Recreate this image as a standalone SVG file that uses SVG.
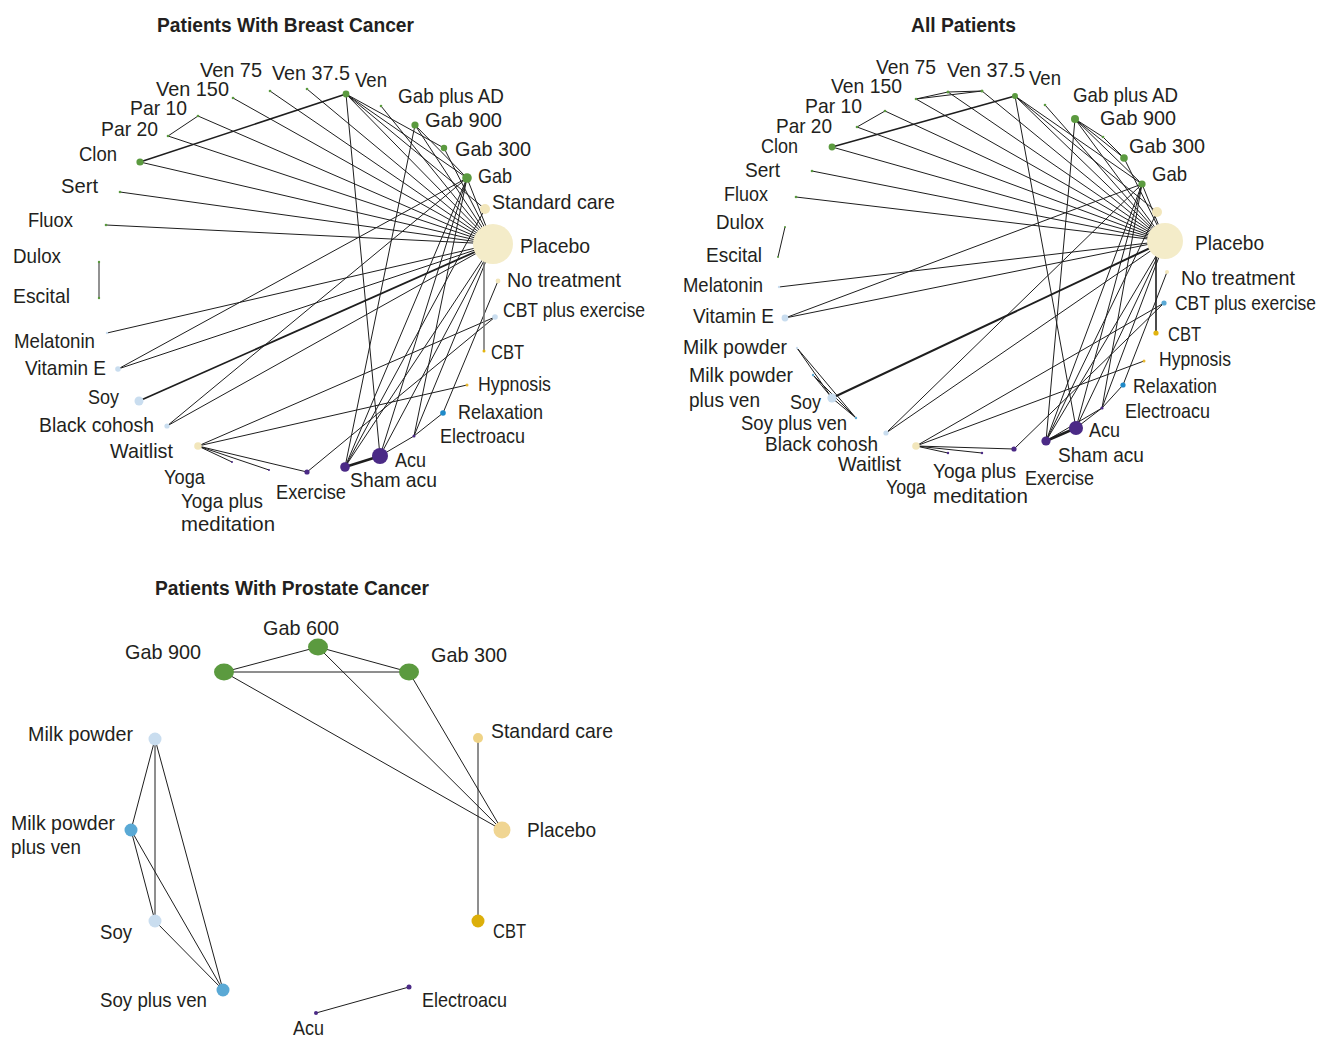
<svg xmlns="http://www.w3.org/2000/svg" width="1328" height="1037" viewBox="0 0 1328 1037">
<style>
text{font-family:"Liberation Sans",Arial,sans-serif;fill:#231f20}
.l{font-size:21px}
.t{font-size:20px;font-weight:bold}
.e{stroke:#1e1e1e;stroke-width:1;fill:none}
.k{stroke:#1e1e1e;stroke-width:2;fill:none}
.g{stroke:#777;stroke-width:1.6;fill:none}
.gr{fill:#5b9a3f}.cr{fill:#f4ecc9}.lb{fill:#c9ddef}.mb{fill:#5aa9d5}.rb{fill:#1f8ac9}.pu{fill:#4b2a86}.go{fill:#e2b40f}.hy{fill:#e8b830}.sc{fill:#f2e6bb}
.pp{fill:#f0d592}.ps{fill:#efd386}.pc{fill:#dcaf0a}
</style>
<rect width="1328" height="1037" fill="#fff"/>
<text class="t" x="157" y="32" textLength="257" lengthAdjust="spacingAndGlyphs">Patients With Breast Cancer</text>
<text class="t" x="911" y="32" textLength="105" lengthAdjust="spacingAndGlyphs">All Patients</text>
<text class="t" x="155" y="595" textLength="274" lengthAdjust="spacingAndGlyphs">Patients With Prostate Cancer</text>

<g id="connectors">
<line class="e" x1="140" y1="162" x2="346" y2="94" style="stroke-width:1.5"/>
<line class="e" x1="140" y1="162" x2="493" y2="244"/>
<line class="e" x1="168" y1="136" x2="198" y2="116"/>
<line class="e" x1="168" y1="136" x2="493" y2="244"/>
<line class="e" x1="198" y1="116" x2="493" y2="244"/>
<line class="e" x1="233" y1="98" x2="493" y2="244"/>
<line class="e" x1="270" y1="91" x2="493" y2="244"/>
<line class="e" x1="307" y1="89" x2="493" y2="244"/>
<line class="e" x1="120" y1="192" x2="493" y2="244"/>
<line class="e" x1="106" y1="225" x2="493" y2="244"/>
<line class="g" x1="99" y1="262" x2="99" y2="298"/>
<line class="e" x1="107" y1="333" x2="493" y2="244"/>
<line class="e" x1="118" y1="369" x2="493" y2="244"/>
<line class="e" x1="118" y1="369" x2="467" y2="178"/>
<line class="e" x1="139" y1="401" x2="493" y2="244" style="stroke-width:1.8"/>
<line class="e" x1="167" y1="426" x2="493" y2="244"/>
<line class="e" x1="167" y1="426" x2="467" y2="178"/>
<line class="e" x1="198" y1="446" x2="232" y2="462"/>
<line class="e" x1="198" y1="446" x2="269" y2="470"/>
<line class="e" x1="198" y1="446" x2="307" y2="472"/>
<line class="e" x1="198" y1="446" x2="495" y2="317"/>
<line class="e" x1="198" y1="446" x2="467" y2="385"/>
<line class="e" x1="307" y1="472" x2="495" y2="317"/>
<line class="k" x1="345" y1="467" x2="380" y2="456" style="stroke-width:2.5"/>
<line class="e" x1="345" y1="467" x2="467" y2="178"/>
<line class="e" x1="345" y1="467" x2="493" y2="244"/>
<line class="e" x1="345" y1="467" x2="485" y2="209"/>
<line class="e" x1="345" y1="467" x2="415" y2="125"/>
<line class="e" x1="380" y1="456" x2="346" y2="94"/>
<line class="e" x1="380" y1="456" x2="414" y2="436"/>
<line class="e" x1="414" y1="436" x2="443" y2="413"/>
<line class="e" x1="380" y1="456" x2="493" y2="244"/>
<line class="e" x1="380" y1="456" x2="467" y2="178"/>
<line class="e" x1="414" y1="436" x2="467" y2="178"/>
<line class="e" x1="414" y1="436" x2="493" y2="244"/>
<line class="e" x1="443" y1="413" x2="498" y2="281"/>
<line class="g" x1="484" y1="244" x2="484" y2="351"/>
<line class="e" x1="415" y1="125" x2="467" y2="178"/>
<line class="e" x1="415" y1="125" x2="493" y2="244"/>
<line class="e" x1="444" y1="148" x2="493" y2="244"/>
<line class="e" x1="467" y1="178" x2="493" y2="244"/>
<line class="e" x1="381" y1="106" x2="493" y2="244"/>
<line class="e" x1="346" y1="94" x2="493" y2="244"/>
<line class="e" x1="346" y1="94" x2="467" y2="178"/>
<line class="e" x1="346" y1="94" x2="485" y2="209"/>
<line class="e" x1="346" y1="94" x2="444" y2="148"/>

<line class="e" x1="916" y1="99" x2="948" y2="92"/>
<line class="e" x1="916" y1="99" x2="982" y2="91"/>
<line class="e" x1="948" y1="92" x2="982" y2="91"/>
<line class="e" x1="916" y1="99" x2="1165" y2="241"/>
<line class="e" x1="948" y1="92" x2="1165" y2="241"/>
<line class="e" x1="982" y1="91" x2="1165" y2="241"/>
<line class="e" x1="857" y1="127" x2="885" y2="111"/>
<line class="e" x1="857" y1="127" x2="1165" y2="241"/>
<line class="e" x1="885" y1="111" x2="1165" y2="241"/>
<line class="e" x1="832" y1="147" x2="1015" y2="96" style="stroke-width:1.5"/>
<line class="e" x1="832" y1="147" x2="1165" y2="241"/>
<line class="e" x1="812" y1="171" x2="1165" y2="241"/>
<line class="e" x1="796" y1="197" x2="1165" y2="241"/>
<line class="e" x1="785" y1="227" x2="778" y2="257"/>
<line class="e" x1="779" y1="287" x2="1165" y2="241"/>
<line class="e" x1="785" y1="318" x2="1165" y2="241"/>
<line class="e" x1="785" y1="318" x2="1142" y2="184"/>
<line class="e" x1="797" y1="348" x2="832" y2="398"/>
<line class="e" x1="797" y1="348" x2="856" y2="418"/>
<line class="e" x1="813" y1="375" x2="856" y2="418"/>
<line class="e" x1="813" y1="375" x2="832" y2="398"/>
<line class="e" x1="832" y1="398" x2="856" y2="418"/>
<line class="e" x1="832" y1="398" x2="1165" y2="241" style="stroke-width:2"/>
<line class="e" x1="886" y1="433" x2="1165" y2="241"/>
<line class="e" x1="886" y1="433" x2="1142" y2="184"/>
<line class="e" x1="916" y1="446" x2="948" y2="453"/>
<line class="e" x1="916" y1="446" x2="982" y2="453"/>
<line class="e" x1="916" y1="446" x2="1014" y2="449"/>
<line class="e" x1="916" y1="446" x2="1164" y2="303"/>
<line class="e" x1="916" y1="446" x2="1144" y2="361"/>
<line class="e" x1="1014" y1="449" x2="1164" y2="303"/>
<line class="k" x1="1046" y1="441" x2="1076" y2="428" style="stroke-width:2.5"/>
<line class="e" x1="1046" y1="441" x2="1142" y2="184"/>
<line class="e" x1="1046" y1="441" x2="1165" y2="241"/>
<line class="e" x1="1046" y1="441" x2="1157" y2="212"/>
<line class="e" x1="1046" y1="441" x2="1075" y2="119"/>
<line class="e" x1="1046" y1="441" x2="1102" y2="408"/>
<line class="e" x1="1076" y1="428" x2="1015" y2="96"/>
<line class="e" x1="1076" y1="428" x2="1102" y2="408"/>
<line class="e" x1="1102" y1="408" x2="1123" y2="385"/>
<line class="e" x1="1076" y1="428" x2="1165" y2="241"/>
<line class="e" x1="1076" y1="428" x2="1142" y2="184"/>
<line class="e" x1="1102" y1="408" x2="1142" y2="184"/>
<line class="e" x1="1102" y1="408" x2="1165" y2="241"/>
<line class="e" x1="1123" y1="385" x2="1167" y2="272"/>
<line class="k" x1="1156" y1="241" x2="1156" y2="333" style="stroke-width:1.6"/>
<line class="e" x1="1075" y1="119" x2="1124" y2="158"/>
<line class="e" x1="1075" y1="119" x2="1103" y2="137"/>
<line class="e" x1="1103" y1="137" x2="1124" y2="158"/>
<line class="e" x1="1075" y1="119" x2="1142" y2="184"/>
<line class="e" x1="1075" y1="119" x2="1165" y2="241"/>
<line class="e" x1="1124" y1="158" x2="1165" y2="241"/>
<line class="e" x1="1142" y1="184" x2="1165" y2="241"/>
<line class="e" x1="1045" y1="105" x2="1165" y2="241"/>
<line class="e" x1="1015" y1="96" x2="1165" y2="241"/>
<line class="e" x1="1015" y1="96" x2="1142" y2="184"/>
<line class="e" x1="1015" y1="96" x2="1157" y2="212"/>

<line class="e" x1="224" y1="672" x2="318" y2="647"/>
<line class="e" x1="224" y1="672" x2="409" y2="672"/>
<line class="e" x1="224" y1="672" x2="502" y2="830"/>
<line class="e" x1="318" y1="647" x2="409" y2="672"/>
<line class="e" x1="318" y1="647" x2="502" y2="830"/>
<line class="e" x1="409" y1="672" x2="502" y2="830"/>
<line class="e" x1="478" y1="738" x2="478" y2="921"/>
<line class="e" x1="155" y1="739" x2="131" y2="830"/>
<line class="e" x1="155" y1="739" x2="155" y2="921"/>
<line class="e" x1="155" y1="739" x2="223" y2="990"/>
<line class="e" x1="131" y1="830" x2="155" y2="921"/>
<line class="e" x1="131" y1="830" x2="223" y2="990"/>
<line class="e" x1="155" y1="921" x2="223" y2="990"/>
<line class="e" x1="316" y1="1013" x2="409" y2="987"/>
</g>

<g id="b-ven75"><circle class="gr" cx="270" cy="91" r="1.3"/><text class="l" x="200" y="77" textLength="62" lengthAdjust="spacingAndGlyphs">Ven 75</text></g>
<g id="b-ven375"><circle class="gr" cx="307" cy="89" r="1.3"/><text class="l" x="272" y="80" textLength="78" lengthAdjust="spacingAndGlyphs">Ven 37.5</text></g>
<g id="b-ven150"><circle class="gr" cx="233" cy="98" r="1.3"/><text class="l" x="156" y="96" textLength="73" lengthAdjust="spacingAndGlyphs">Ven 150</text></g>
<g id="b-par10"><circle class="gr" cx="198" cy="116" r="1.3"/><text class="l" x="130" y="115" textLength="57" lengthAdjust="spacingAndGlyphs">Par 10</text></g>
<g id="b-par20"><circle class="gr" cx="168" cy="136" r="1.3"/><text class="l" x="101" y="136" textLength="57" lengthAdjust="spacingAndGlyphs">Par 20</text></g>
<g id="b-clon"><circle class="gr" cx="140" cy="162" r="3.6"/><text class="l" x="79" y="161" textLength="38" lengthAdjust="spacingAndGlyphs">Clon</text></g>
<g id="b-sert"><circle class="gr" cx="120" cy="192" r="1.3"/><text class="l" x="61" y="193" textLength="37" lengthAdjust="spacingAndGlyphs">Sert</text></g>
<g id="b-fluox"><circle class="gr" cx="106" cy="225" r="1.3"/><text class="l" x="28" y="227" textLength="45" lengthAdjust="spacingAndGlyphs">Fluox</text></g>
<g id="b-dulox"><circle class="gr" cx="99" cy="262" r="1.2"/><text class="l" x="13" y="263" textLength="48" lengthAdjust="spacingAndGlyphs">Dulox</text></g>
<g id="b-escital"><circle class="gr" cx="99" cy="298" r="1.2"/><text class="l" x="13" y="303" textLength="57" lengthAdjust="spacingAndGlyphs">Escital</text></g>
<g id="b-melatonin"><circle class="lb" cx="107" cy="333" r="1.2"/><text class="l" x="14" y="348" textLength="81" lengthAdjust="spacingAndGlyphs">Melatonin</text></g>
<g id="b-vite"><circle class="lb" cx="118" cy="369" r="2.8"/><text class="l" x="25" y="375" textLength="81" lengthAdjust="spacingAndGlyphs">Vitamin E</text></g>
<g id="b-soy"><circle class="lb" cx="139" cy="401" r="4.5"/><text class="l" x="88" y="404" textLength="31" lengthAdjust="spacingAndGlyphs">Soy</text></g>
<g id="b-blackcohosh"><circle class="lb" cx="167" cy="426" r="2.6"/><text class="l" x="39" y="432" textLength="115" lengthAdjust="spacingAndGlyphs">Black cohosh</text></g>
<g id="b-waitlist"><circle class="sc" cx="198" cy="446" r="3.8"/><text class="l" x="110" y="458" textLength="63" lengthAdjust="spacingAndGlyphs">Waitlist</text></g>
<g id="b-yoga"><circle class="pu" cx="232" cy="462" r="1"/><text class="l" x="164" y="484" textLength="41" lengthAdjust="spacingAndGlyphs">Yoga</text></g>
<g id="b-yogamed"><circle class="pu" cx="269" cy="470" r="1"/><text class="l" x="181" y="508" textLength="82" lengthAdjust="spacingAndGlyphs">Yoga plus</text><text class="l" x="181" y="531" textLength="94" lengthAdjust="spacingAndGlyphs">meditation</text></g>
<g id="b-exercise"><circle class="pu" cx="307" cy="472" r="2.6"/><text class="l" x="276" y="499" textLength="70" lengthAdjust="spacingAndGlyphs">Exercise</text></g>
<g id="b-shamacu"><circle class="pu" cx="345" cy="467" r="4.8"/><text class="l" x="350" y="487" textLength="87" lengthAdjust="spacingAndGlyphs">Sham acu</text></g>
<g id="b-acu"><circle class="pu" cx="380" cy="456" r="8"/><text class="l" x="395" y="467" textLength="31" lengthAdjust="spacingAndGlyphs">Acu</text></g>
<g id="b-electroacu"><circle class="pu" cx="414" cy="436" r="1.5"/><text class="l" x="440" y="443" textLength="85" lengthAdjust="spacingAndGlyphs">Electroacu</text></g>
<g id="b-relaxation"><circle class="rb" cx="443" cy="413" r="2.8"/><text class="l" x="458" y="419" textLength="85" lengthAdjust="spacingAndGlyphs">Relaxation</text></g>
<g id="b-hypnosis"><circle class="hy" cx="467" cy="385" r="1.5"/><text class="l" x="478" y="391" textLength="73" lengthAdjust="spacingAndGlyphs">Hypnosis</text></g>
<g id="b-cbt"><circle class="go" cx="484" cy="351" r="1.5"/><text class="l" x="491" y="359" textLength="33" lengthAdjust="spacingAndGlyphs">CBT</text></g>
<g id="b-cbtex"><circle class="lb" cx="495" cy="317" r="2.8"/><text class="l" x="503" y="317" textLength="142" lengthAdjust="spacingAndGlyphs">CBT plus exercise</text></g>
<g id="b-notreat"><circle class="sc" cx="498" cy="281" r="2.4"/><text class="l" x="507" y="287" textLength="114" lengthAdjust="spacingAndGlyphs">No treatment</text></g>
<g id="b-placebo"><circle class="cr" cx="493" cy="244" r="20"/><text class="l" x="520" y="253" textLength="70" lengthAdjust="spacingAndGlyphs">Placebo</text></g>
<g id="b-stdcare"><circle class="sc" cx="485" cy="209" r="5"/><text class="l" x="492" y="209" textLength="123" lengthAdjust="spacingAndGlyphs">Standard care</text></g>
<g id="b-gab"><circle class="gr" cx="467" cy="178" r="4.8"/><text class="l" x="478" y="183" textLength="34" lengthAdjust="spacingAndGlyphs">Gab</text></g>
<g id="b-gab300"><circle class="gr" cx="444" cy="148" r="3.2"/><text class="l" x="455" y="156" textLength="76" lengthAdjust="spacingAndGlyphs">Gab 300</text></g>
<g id="b-gab900"><circle class="gr" cx="415" cy="125" r="3.6"/><text class="l" x="425" y="127" textLength="77" lengthAdjust="spacingAndGlyphs">Gab 900</text></g>
<g id="b-gabad"><circle class="gr" cx="381" cy="106" r="1.3"/><text class="l" x="398" y="103" textLength="106" lengthAdjust="spacingAndGlyphs">Gab plus AD</text></g>
<g id="b-ven"><circle class="gr" cx="346" cy="94" r="3.4"/><text class="l" x="355" y="87" textLength="32" lengthAdjust="spacingAndGlyphs">Ven</text></g>

<g id="a-ven75"><circle class="gr" cx="948" cy="92" r="1.5"/><text class="l" x="876" y="74" textLength="60" lengthAdjust="spacingAndGlyphs">Ven 75</text></g>
<g id="a-ven375"><circle class="gr" cx="982" cy="91" r="1.5"/><text class="l" x="947" y="77" textLength="78" lengthAdjust="spacingAndGlyphs">Ven 37.5</text></g>
<g id="a-ven150"><circle class="gr" cx="916" cy="99" r="1.3"/><text class="l" x="831" y="93" textLength="71" lengthAdjust="spacingAndGlyphs">Ven 150</text></g>
<g id="a-par10"><circle class="gr" cx="885" cy="111" r="1.3"/><text class="l" x="805" y="113" textLength="57" lengthAdjust="spacingAndGlyphs">Par 10</text></g>
<g id="a-par20"><circle class="gr" cx="857" cy="127" r="1.3"/><text class="l" x="776" y="133" textLength="56" lengthAdjust="spacingAndGlyphs">Par 20</text></g>
<g id="a-clon"><circle class="gr" cx="832" cy="147" r="3.4"/><text class="l" x="761" y="153" textLength="37" lengthAdjust="spacingAndGlyphs">Clon</text></g>
<g id="a-sert"><circle class="gr" cx="812" cy="171" r="1.3"/><text class="l" x="745" y="177" textLength="35" lengthAdjust="spacingAndGlyphs">Sert</text></g>
<g id="a-fluox"><circle class="gr" cx="796" cy="197" r="1.3"/><text class="l" x="724" y="201" textLength="44" lengthAdjust="spacingAndGlyphs">Fluox</text></g>
<g id="a-dulox"><circle class="gr" cx="785" cy="227" r="1"/><text class="l" x="716" y="229" textLength="48" lengthAdjust="spacingAndGlyphs">Dulox</text></g>
<g id="a-escital"><circle class="gr" cx="778" cy="257" r="1"/><text class="l" x="706" y="262" textLength="56" lengthAdjust="spacingAndGlyphs">Escital</text></g>
<g id="a-melatonin"><circle class="lb" cx="779" cy="287" r="1.2"/><text class="l" x="683" y="292" textLength="80" lengthAdjust="spacingAndGlyphs">Melatonin</text></g>
<g id="a-vite"><circle class="lb" cx="785" cy="318" r="3.4"/><text class="l" x="693" y="323" textLength="81" lengthAdjust="spacingAndGlyphs">Vitamin E</text></g>
<g id="a-milk"><circle class="lb" cx="797" cy="348" r="1.2"/><text class="l" x="683" y="354" textLength="104" lengthAdjust="spacingAndGlyphs">Milk powder</text></g>
<g id="a-milkven"><circle class="mb" cx="813" cy="375" r="1.2"/><text class="l" x="689" y="382" textLength="104" lengthAdjust="spacingAndGlyphs">Milk powder</text><text class="l" x="689" y="407" textLength="71" lengthAdjust="spacingAndGlyphs">plus ven</text></g>
<g id="a-soy"><circle class="lb" cx="832" cy="398" r="4.6"/><text class="l" x="790" y="409" textLength="31" lengthAdjust="spacingAndGlyphs">Soy</text></g>
<g id="a-soyven"><circle class="mb" cx="856" cy="418" r="1.2"/><text class="l" x="741" y="430" textLength="106" lengthAdjust="spacingAndGlyphs">Soy plus ven</text></g>
<g id="a-blackcohosh"><circle class="lb" cx="886" cy="433" r="2.6"/><text class="l" x="765" y="451" textLength="113" lengthAdjust="spacingAndGlyphs">Black cohosh</text></g>
<g id="a-waitlist"><circle class="sc" cx="916" cy="446" r="3.8"/><text class="l" x="838" y="471" textLength="63" lengthAdjust="spacingAndGlyphs">Waitlist</text></g>
<g id="a-yoga"><circle class="pu" cx="948" cy="453" r="1.2"/><text class="l" x="886" y="494" textLength="40" lengthAdjust="spacingAndGlyphs">Yoga</text></g>
<g id="a-yogamed"><circle class="pu" cx="982" cy="453" r="1.2"/><text class="l" x="933" y="478" textLength="83" lengthAdjust="spacingAndGlyphs">Yoga plus</text><text class="l" x="933" y="503" textLength="95" lengthAdjust="spacingAndGlyphs">meditation</text></g>
<g id="a-exercise"><circle class="pu" cx="1014" cy="449" r="2.6"/><text class="l" x="1025" y="485" textLength="69" lengthAdjust="spacingAndGlyphs">Exercise</text></g>
<g id="a-shamacu"><circle class="pu" cx="1046" cy="441" r="4.6"/><text class="l" x="1058" y="462" textLength="86" lengthAdjust="spacingAndGlyphs">Sham acu</text></g>
<g id="a-acu"><circle class="pu" cx="1076" cy="428" r="7"/><text class="l" x="1089" y="437" textLength="31" lengthAdjust="spacingAndGlyphs">Acu</text></g>
<g id="a-electroacu"><circle class="pu" cx="1102" cy="408" r="1.6"/><text class="l" x="1125" y="418" textLength="85" lengthAdjust="spacingAndGlyphs">Electroacu</text></g>
<g id="a-relaxation"><circle class="rb" cx="1123" cy="385" r="2.6"/><text class="l" x="1133" y="393" textLength="84" lengthAdjust="spacingAndGlyphs">Relaxation</text></g>
<g id="a-hypnosis"><circle class="hy" cx="1144" cy="361" r="1.5"/><text class="l" x="1159" y="366" textLength="72" lengthAdjust="spacingAndGlyphs">Hypnosis</text></g>
<g id="a-cbt"><circle class="go" cx="1156" cy="333" r="2.6"/><text class="l" x="1168" y="341" textLength="33" lengthAdjust="spacingAndGlyphs">CBT</text></g>
<g id="a-cbtex"><circle class="mb" cx="1164" cy="303" r="2.6"/><text class="l" x="1175" y="310" textLength="141" lengthAdjust="spacingAndGlyphs">CBT plus exercise</text></g>
<g id="a-notreat"><circle class="sc" cx="1167" cy="272" r="2"/><text class="l" x="1181" y="285" textLength="114" lengthAdjust="spacingAndGlyphs">No treatment</text></g>
<g id="a-placebo"><circle class="cr" cx="1165" cy="241" r="18"/><text class="l" x="1195" y="250" textLength="69" lengthAdjust="spacingAndGlyphs">Placebo</text></g>
<g id="a-stdcare"><circle class="sc" cx="1157" cy="212" r="5"/></g>
<g id="a-gab"><circle class="gr" cx="1142" cy="184" r="3.6"/><text class="l" x="1152" y="181" textLength="35" lengthAdjust="spacingAndGlyphs">Gab</text></g>
<g id="a-gab300"><circle class="gr" cx="1124" cy="158" r="3.8"/><text class="l" x="1129" y="153" textLength="76" lengthAdjust="spacingAndGlyphs">Gab 300</text></g>
<g id="a-gab600"><circle class="gr" cx="1103" cy="137" r="1.3"/></g>
<g id="a-gab900"><circle class="gr" cx="1075" cy="119" r="4"/><text class="l" x="1100" y="125" textLength="76" lengthAdjust="spacingAndGlyphs">Gab 900</text></g>
<g id="a-gabad"><circle class="gr" cx="1045" cy="105" r="1.3"/><text class="l" x="1073" y="102" textLength="105" lengthAdjust="spacingAndGlyphs">Gab plus AD</text></g>
<g id="a-ven"><circle class="gr" cx="1015" cy="96" r="3"/><text class="l" x="1029" y="85" textLength="32" lengthAdjust="spacingAndGlyphs">Ven</text></g>

<g id="p-gab900"><ellipse class="gr" cx="224" cy="672" rx="10" ry="8.5"/><text class="l" x="125" y="659" textLength="76" lengthAdjust="spacingAndGlyphs">Gab 900</text></g>
<g id="p-gab600"><ellipse class="gr" cx="318" cy="647" rx="10" ry="8.5"/><text class="l" x="263" y="635" textLength="76" lengthAdjust="spacingAndGlyphs">Gab 600</text></g>
<g id="p-gab300"><ellipse class="gr" cx="409" cy="672" rx="10" ry="8.5"/><text class="l" x="431" y="662" textLength="76" lengthAdjust="spacingAndGlyphs">Gab 300</text></g>
<g id="p-stdcare"><circle class="ps" cx="478" cy="738" r="5"/><text class="l" x="491" y="738" textLength="122" lengthAdjust="spacingAndGlyphs">Standard care</text></g>
<g id="p-placebo"><circle class="pp" cx="502" cy="830" r="8.5"/><text class="l" x="527" y="837" textLength="69" lengthAdjust="spacingAndGlyphs">Placebo</text></g>
<g id="p-cbt"><circle class="pc" cx="478" cy="921" r="6.5"/><text class="l" x="493" y="938" textLength="33" lengthAdjust="spacingAndGlyphs">CBT</text></g>
<g id="p-electroacu"><circle class="pu" cx="409" cy="987" r="2.5"/><text class="l" x="422" y="1007" textLength="85" lengthAdjust="spacingAndGlyphs">Electroacu</text></g>
<g id="p-acu"><circle class="pu" cx="316" cy="1013" r="2"/><text class="l" x="293" y="1035" textLength="31" lengthAdjust="spacingAndGlyphs">Acu</text></g>
<g id="p-milk"><circle class="lb" cx="155" cy="739" r="6.5"/><text class="l" x="28" y="741" textLength="105" lengthAdjust="spacingAndGlyphs">Milk powder</text></g>
<g id="p-milkven"><circle class="mb" cx="131" cy="830" r="6.5"/><text class="l" x="11" y="830" textLength="104" lengthAdjust="spacingAndGlyphs">Milk powder</text><text class="l" x="11" y="854" textLength="70" lengthAdjust="spacingAndGlyphs">plus ven</text></g>
<g id="p-soy"><circle class="lb" cx="155" cy="921" r="6.5"/><text class="l" x="100" y="939" textLength="32" lengthAdjust="spacingAndGlyphs">Soy</text></g>
<g id="p-soyven"><circle class="mb" cx="223" cy="990" r="6.5"/><text class="l" x="100" y="1007" textLength="107" lengthAdjust="spacingAndGlyphs">Soy plus ven</text></g>
</svg>
